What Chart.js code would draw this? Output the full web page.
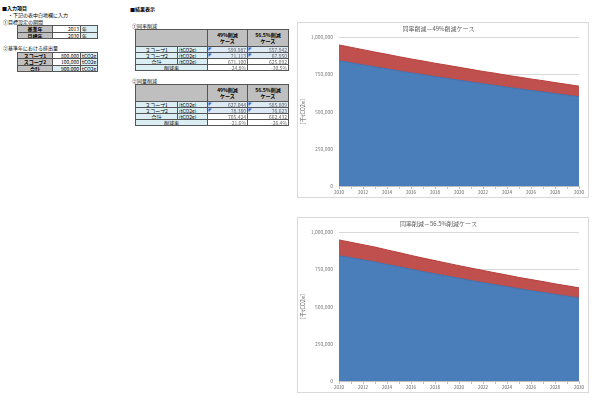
<!DOCTYPE html>
<html lang="ja">
<head>
<meta charset="utf-8">
<script src="https://cdn.jsdelivr.net/npm/chart.js@4/dist/chart.umd.min.js"></script>
<style>
  html, body { margin: 0; padding: 0; background: #fff; }
  body { width: 600px; height: 403px; position: relative; overflow: hidden;
         font-family: "Noto Sans CJK JP", sans-serif; color: #000; }
  .t { position: absolute; font-size: 5px; line-height: 5px; white-space: nowrap; }
  .b { font-weight: bold; }
  table { position: absolute; border-collapse: collapse; table-layout: fixed;
          border: 1px solid #000; font-size: 5px; }
  td { border: 0.5px solid #555; padding: 0 1px; height: 5px; line-height: 5px; overflow: hidden; white-space: nowrap; }
  .in td { height: 5.5px; line-height: 5.5px; }
  .hd { background: #bfbfbf; text-align: center; font-weight: bold; }
  .lb { background: #daeef3; }
  .r { text-align: right; }
  .c { text-align: center; }
  .blur { color: #666; filter: blur(0.7px); }
  .tri { background: linear-gradient(135deg, #1c5fd4 0 2.5px, transparent 2.5px), #dce8f4; }
  .box { position: absolute; border: 1px solid #d9d9d9; background: #fff; }
</style>
</head>
<body>
<div class="t b" style="left:2px;top:5px">■入力項目</div>
<div class="t" style="left:8px;top:11.5px">・下記の表中白地欄に入力</div>
<div class="t" style="left:3px;top:18.5px">①目標設定の期間</div>
<table class="in" style="left:17px;top:25px;width:80px">
  <colgroup><col style="width:35px"><col style="width:28px"><col style="width:17px"></colgroup>
  <tr><td class="hd">基準年</td><td class="r">2013</td><td class="lb">年</td></tr>
  <tr><td class="hd">目標年</td><td class="r">2030</td><td class="lb">年</td></tr>
</table>

<div class="t" style="left:3px;top:45px">②基準年における排出量</div>
<table class="in" style="left:17px;top:51.5px;width:80px">
  <colgroup><col style="width:35px"><col style="width:28px"><col style="width:17px"></colgroup>
  <tr><td class="hd">スコープ1</td><td class="r">800,000</td><td class="lb">tCO2e</td></tr>
  <tr><td class="hd">スコープ2</td><td class="r">100,000</td><td class="lb">tCO2e</td></tr>
  <tr><td class="hd">合計</td><td class="r lb">900,000</td><td class="lb">tCO2e</td></tr>
</table>

<div class="t b" style="left:130px;top:6px">■結果表示</div>
<div class="t" style="left:132px;top:23px">①同率削減</div>
<table style="left:135px;top:29px;width:153px">
  <colgroup><col style="width:42px"><col style="width:30px"><col style="width:40px"><col style="width:41px"></colgroup>
  <tr><td class="hd" colspan="2" style="height:16px"></td><td class="hd" style="line-height:6px">49%削減<br>ケース</td><td class="hd" style="line-height:6px">56.5%削減<br>ケース</td></tr>
  <tr><td class="lb c">スコープ1</td><td class="lb">(tCO2e)</td><td class="tri r"><span class="blur">599,987</span></td><td class="tri r"><span class="blur">557,942</span></td></tr>
  <tr><td class="lb c">スコープ2</td><td class="lb">(tCO2e)</td><td class="tri r"><span class="blur">71,113</span></td><td class="tri r"><span class="blur">67,950</span></td></tr>
  <tr><td class="lb c">合計</td><td class="lb">(tCO2e)</td><td class="r"><span class="blur">671,100</span></td><td class="r"><span class="blur">625,892</span></td></tr>
  <tr><td class="lb c" colspan="2">削減率</td><td class="r"><span class="blur">-24.8%</span></td><td class="r"><span class="blur">-30.5%</span></td></tr>
</table>

<div class="t" style="left:132px;top:78px">②同量削減</div>
<table style="left:135px;top:84px;width:153px">
  <colgroup><col style="width:42px"><col style="width:30px"><col style="width:40px"><col style="width:41px"></colgroup>
  <tr><td class="hd" colspan="2" style="height:16px"></td><td class="hd" style="line-height:6px">49%削減<br>ケース</td><td class="hd" style="line-height:6px">56.5%削減<br>ケース</td></tr>
  <tr><td class="lb c">スコープ1</td><td class="lb">(tCO2e)</td><td class="tri r"><span class="blur">627,044</span></td><td class="tri r"><span class="blur">585,809</span></td></tr>
  <tr><td class="lb c">スコープ2</td><td class="lb">(tCO2e)</td><td class="tri r"><span class="blur">78,380</span></td><td class="tri r"><span class="blur">76,623</span></td></tr>
  <tr><td class="lb c">合計</td><td class="lb">(tCO2e)</td><td class="r"><span class="blur">705,424</span></td><td class="r"><span class="blur">662,432</span></td></tr>
  <tr><td class="lb c" colspan="2">削減率</td><td class="r"><span class="blur">-21.6%</span></td><td class="r"><span class="blur">-26.4%</span></td></tr>
</table>

<div class="box" style="left:297px;top:22px;width:290px;height:174px"><canvas id="c1" width="290" height="174"></canvas></div>
<div class="box" style="left:297px;top:217px;width:290px;height:174px"><canvas id="c2" width="290" height="174"></canvas></div>

<script>
const years = ["2010","2011","2012","2013","2014","2015","2016","2017","2018","2019","2020",
               "2021","2022","2023","2024","2025","2026","2027","2028","2029","2030"]

// 同率削減－49%削減ケース
const scope1Case49 = [842000, 828000, 814000, 800000, 787000, 773000, 760000, 748000, 735000, 723000, 711000,
                      699000, 687000, 676000, 664000, 653000, 642000, 632000, 621000, 610000, 600000]
const scope2Case49 = [106000, 104000, 102000, 100000, 98000, 96000, 94000, 92000, 90000, 89000, 87000,
                      85000, 83000, 82000, 80000, 79000, 77000, 76000, 74000, 73000, 71000]

// 同率削減－56.5%削減ケース
const scope1Case565 = [842000, 828000, 814000, 800000, 783000, 767000, 751000, 735000, 720000, 705000, 690000,
                       675000, 661000, 647000, 634000, 620000, 607000, 595000, 582000, 570000, 558000]
const scope2Case565 = [106000, 104000, 102000, 100000, 98000, 96000, 93000, 91000, 89000, 87000, 85000,
                       84000, 82000, 80000, 78000, 76000, 75000, 73000, 71000, 70000, 68000]

const yMax = 1000000
const yStep = 250000
const font = "'Noto Sans CJK JP', sans-serif"

function makeChart(id, title, s1, s2) {
  return new Chart(document.getElementById(id), {
    type: "line",
    data: {
      labels: years,
      datasets: [
        {
          label: "スコープ1",
          data: s1,
          borderColor: "#3e70ad",
          backgroundColor: "#4a7ebb",
          borderWidth: 1,
          pointRadius: 0,
          fill: "origin"
        },
        {
          label: "スコープ2",
          data: s2,
          borderColor: "#b8403d",
          backgroundColor: "#c0504d",
          borderWidth: 1,
          pointRadius: 0,
          fill: "-1"
        }
      ]
    },
    options: {
      responsive: false,
      animation: false,
      layout: { padding: { left: 0, right: 9, top: 0, bottom: 0 } },
      plugins: {
        legend: { display: false },
        tooltip: { enabled: false },
        title: {
          display: true,
          text: title,
          color: "#595959",
          font: { family: font, size: 6, weight: "normal" },
          padding: { top: 2, bottom: 5 }
        }
      },
      scales: {
        x: {
          offset: false,
          grid: { display: true, drawOnChartArea: false, tickLength: 3, color: "#bfbfbf" },
          border: { color: "#bfbfbf" },
          ticks: {
            autoSkip: false, maxRotation: 0, padding: 1,
            color: "#595959", font: { family: font, size: 4.5 },
            callback: (v, i) => i % 2 === 0 ? years[i] : ""
          },
          afterFit: s => { s.height = 11 }
        },
        y: {
          stacked: true,
          min: 0,
          max: yMax,
          grid: { color: "#d9d9d9", drawTicks: false },
          border: { display: false },
          ticks: {
            stepSize: yStep, padding: 6,
            color: "#7f7f7f", font: { family: font, size: 5 },
            callback: v => v.toLocaleString("en-US")
          },
          title: {
            display: true, text: "［千tCO2e］", color: "#595959",
            font: { family: font, size: 5.5 }, padding: { top: 2, bottom: 0 }
          },
          afterFit: s => { s.width = 41 }
        }
      }
    }
  })
}

makeChart("c1", "同率削減－49%削減ケース", scope1Case49, scope2Case49)
makeChart("c2", "同率削減－56.5%削減ケース", scope1Case565, scope2Case565)
</script>
</body>
</html>
